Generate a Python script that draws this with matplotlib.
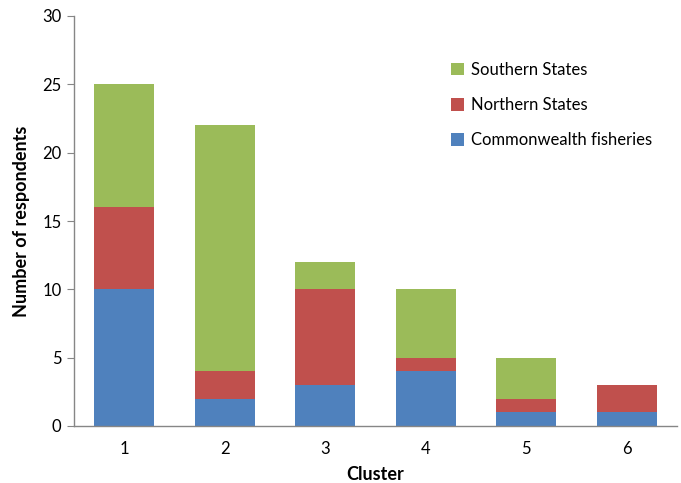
import matplotlib
matplotlib.use("Agg")
import matplotlib.pyplot as plt
import numpy as np

clusters = ["1", "2", "3", "4", "5", "6"]
commonwealth = [10, 2, 3, 4, 1, 1]
northern = [6, 2, 7, 1, 1, 2]
southern = [9, 18, 2, 5, 3, 0]
yticks = [0, 5, 10, 15, 20, 25, 30]

plt.rcParams['font.family'] = ['Lato', 'DejaVu Sans']

fig = plt.figure(figsize=(6.81, 4.83), dpi=100)
ax = fig.add_axes([74/681, 57/483, 603/681, 410/483])

x = np.arange(1, len(clusters) + 1)
w = 0.6
c_blue, c_red, c_green = "#4F81BD", "#C0504D", "#9BBB59"
b1 = ax.bar(x, commonwealth, w, color=c_blue, label="Commonwealth fisheries")
bottom2 = np.array(commonwealth)
b2 = ax.bar(x, northern, w, bottom=bottom2, color=c_red, label="Northern States")
bottom3 = bottom2 + np.array(northern)
b3 = ax.bar(x, southern, w, bottom=bottom3, color=c_green, label="Southern States")

ax.set_xlim(0.5, 6.5)
ax.set_ylim(0, 30)
ax.set_yticks(yticks)
ax.set_xticks(x)
ax.set_xticklabels(clusters)
for s in ["top", "right"]:
    ax.spines[s].set_visible(False)
for s in ["left", "bottom"]:
    ax.spines[s].set_color("#868686")
    ax.spines[s].set_linewidth(1.0)
ax.tick_params(axis="y", direction="out", length=5, color="#868686", labelsize=12, pad=4)
ax.tick_params(axis="x", length=0, labelsize=12, pad=11)

ax.set_xlabel("Cluster", fontsize=13, fontweight="bold", labelpad=6)
ax.set_ylabel("Number of respondents", fontsize=13, fontweight="bold", labelpad=9)

ax.legend(handles=[b3, b2, b1], loc="upper left", bbox_to_anchor=(0.6, 0.925),
          frameon=False, fontsize=12, handlelength=0.8, handleheight=0.8,
          handletextpad=0.4, labelspacing=1.15)

fig.savefig("out.png", dpi=100)
